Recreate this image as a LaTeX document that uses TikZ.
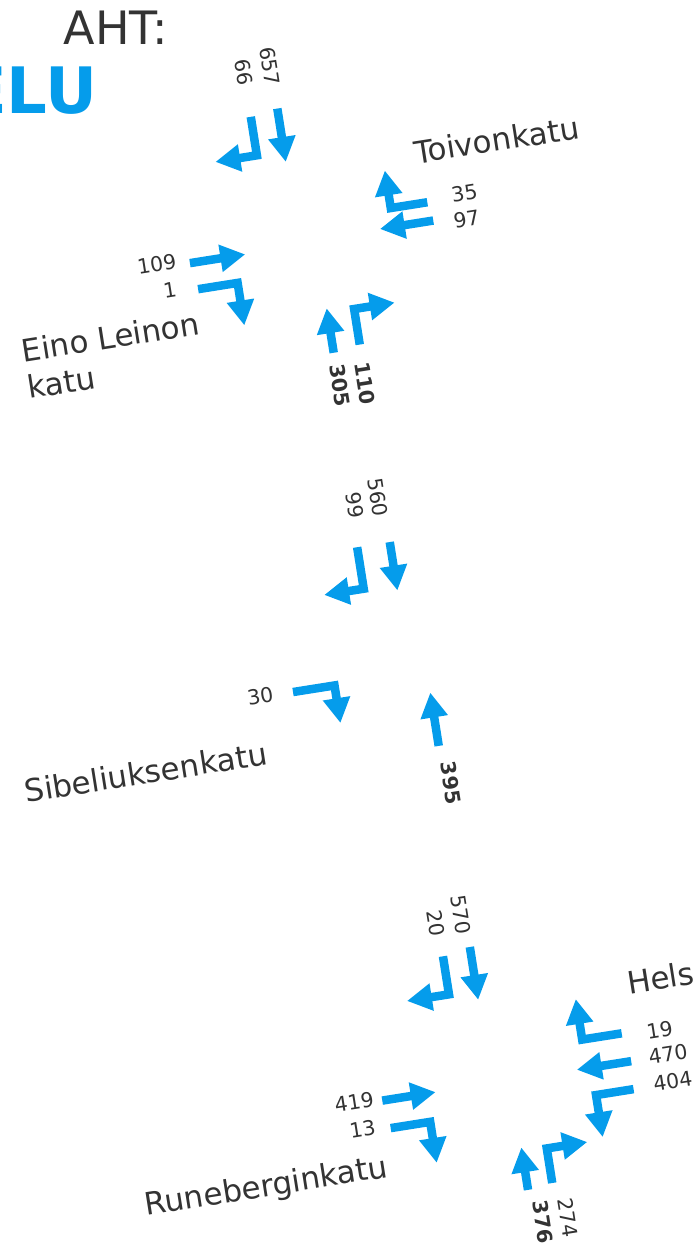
\documentclass[tikz,border=0pt]{standalone}
\usepackage{fontspec}
\setmainfont{DejaVu Sans}
\usepackage{tikz}
\usetikzlibrary{arrows.meta}
\definecolor{laneblue}{RGB}{5,156,235}
\definecolor{textgray}{RGB}{51,51,51}

\tikzset{
  lane/.style={draw=laneblue, line width=8.5pt, line join=miter,
    -{Triangle[length=25pt,width=26pt]}},
  count/.style={text=textgray, inner sep=0pt, font=\fontsize{20.5}{24}\selectfont},
  countbold/.style={count, font=\fontsize{20.5}{24}\selectfont\bfseries},
  street/.style={text=textgray, inner sep=0pt, font=\fontsize{31}{37}\selectfont},
}

\begin{document}
\begin{tikzpicture}[x=1pt,y=-1pt]
\useasboundingbox (0,0) rectangle (697,1245);
\clip (0,0) rectangle (697,1245);

\node[text=textgray, inner sep=0pt, font=\fontsize{46}{50}\selectfont] (aht) at (116,28) {AHT:};
\node[anchor=base west, inner sep=0pt, text=laneblue,
      font=\fontsize{64}{70}\selectfont\bfseries] (elu) at (-37,113) {ELU};

% Toivonkatu x Eino Leinon katu
\begin{scope}[shift={(310,235)}, rotate=9, transform shape]
  \draw[lane] (-12.5,-130) -- (-12.5,-76);
  \draw[lane] (-40,-126) -- (-40,-87) -- (-82,-87);
  \draw[lane] (121,-14) -- (84,-14) -- (84,-52);
  \draw[lane] (124,5) -- (70,5);
  \draw[lane] (-123,9) -- (-67,9);
  \draw[lane] (-119,36) -- (-79,36) -- (-79,79);
  \draw[lane] (5,120) -- (5,75);
  \draw[lane] (32,116) -- (32,80) -- (73,80);
  \node[count, rotate=-90] (tk-s1) at (-13,-173) {657};
  \node[count, rotate=-90] (tk-s2) at (-40,-171) {66};
  \node[count] (tk-w1) at (159,-17) {35};
  \node[count] (tk-w2) at (157,9) {97};
  \node[count] (tk-e1) at (-156,5) {109};
  \node[count] (tk-e2) at (-147,32) {1};
  \node[countbold, rotate=-90] (tk-n1) at (6,153) {305};
  \node[countbold, rotate=-90] (tk-n2) at (31,155) {110};
  \node[street] (toivonkatu) at (199,-65) {Toivonkatu};
  \node[street, align=left] (einoleinon) at (-213,88) {Eino Leinon\\katu};
\end{scope}

% Sibeliuksenkatu
\begin{scope}[shift={(385,640)}, rotate=9, transform shape]
  \draw[lane] (20,-96) -- (20,-47);
  \draw[lane] (-13,-96) -- (-13,-54) -- (-53,-54);
  \draw[lane] (-99,37) -- (-57,37) -- (-57,75);
  \draw[lane] (36.5,113) -- (36.5,59);
  \node[count, rotate=-90] (sb-s1) at (15.5,-142) {560};
  \node[count, rotate=-90] (sb-s2) at (-8.5,-138) {99};
  \node[count] (sb-e1) at (-132,36) {30};
  \node[countbold, rotate=-90] (sb-n1) at (43,151.5) {395};
  \node[street] (sibelius) at (-257,93) {Sibeliuksenkatu};
\end{scope}

% Runeberginkatu x Helsinginkatu
\begin{scope}[shift={(505,1070)}, rotate=9, transform shape]
  \draw[lane] (-15.5,-127) -- (-15.5,-73.5);
  \draw[lane] (-43.5,-122) -- (-43.5,-83.5) -- (-86,-83.5);
  \draw[lane] (121,-18) -- (81,-18) -- (81,-59);
  \draw[lane] (126,11) -- (71,11);
  \draw[lane] (124,39) -- (86,39) -- (86,81.5);
  \draw[lane] (-126,11) -- (-72,11);
  \draw[lane] (-122,39.5) -- (-82,39.5) -- (-82,81);
  \draw[lane] (4,122) -- (4,79);
  \draw[lane] (29,119) -- (29,84) -- (70,84);
  \node[count, rotate=-90] (rb-s1) at (-19,-160) {570};
  \node[count, rotate=-90] (rb-s2) at (-45,-156) {20};
  \node[count] (rb-w1) at (159,-15) {19};
  \node[count] (rb-w2) at (163.5,10) {470};
  \node[count] (rb-w3) at (164,37) {404};
  \node[count] (rb-e1) at (-154,8) {419};
  \node[count] (rb-e2) at (-150,36) {13};
  \node[countbold, rotate=-90] (rb-n1) at (14,156) {376};
  \node[count, rotate=-90] (rb-n2) at (39,156) {274};
  \node[street] (hels) at (168,-67) {Hels};
  \node[street] (runeberg) at (-254,79) {Runeberginkatu};
\end{scope}
\end{tikzpicture}
\end{document}
